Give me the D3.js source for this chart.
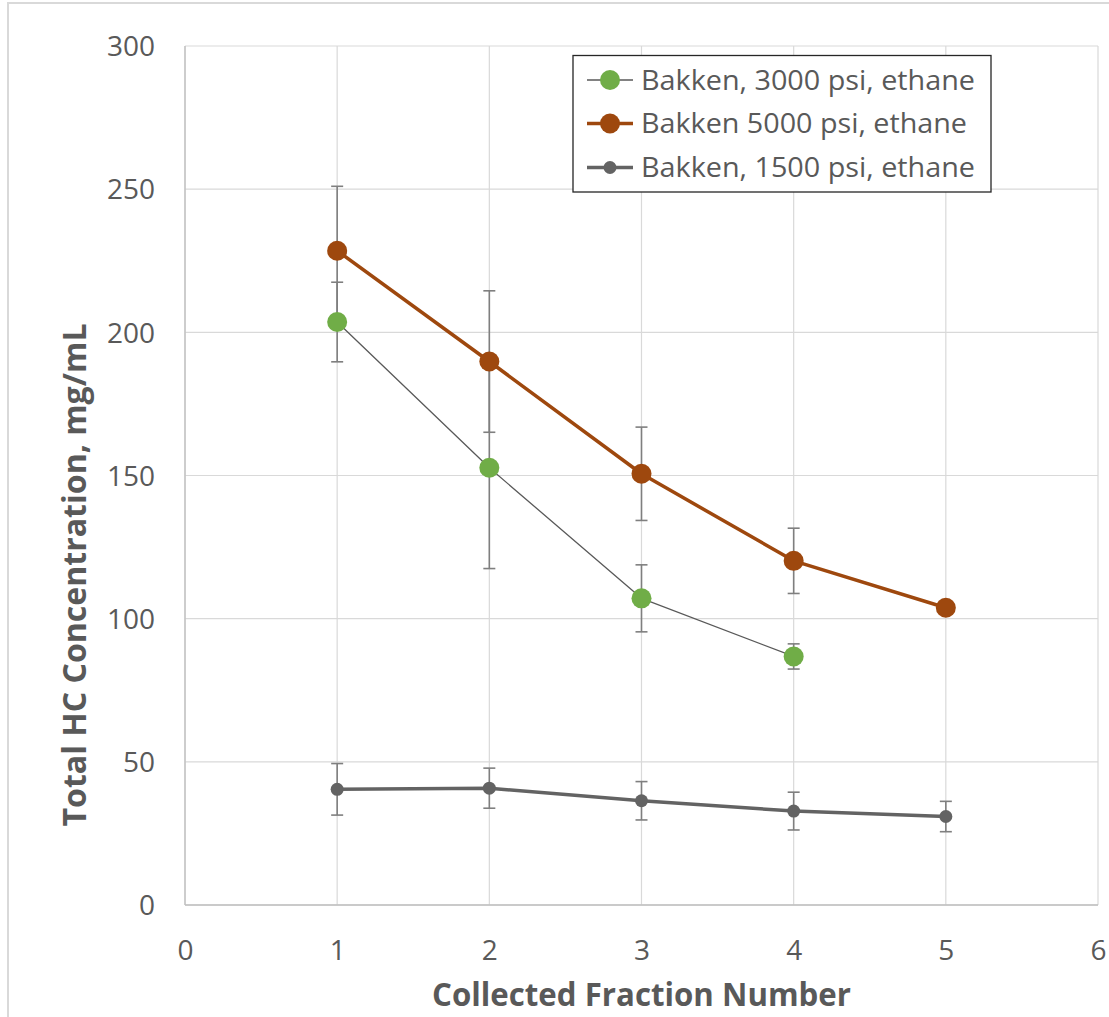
<!DOCTYPE html>
<html><head><meta charset="utf-8">
<script src="https://cdn.jsdelivr.net/npm/d3@7"></script>
<style>html,body{margin:0;padding:0;background:#fff;} svg{display:block;}</style>
</head><body>
<svg id="chart" width="1109" height="1017"></svg>
<script>
// ---- data ----
const fractions = [1, 2, 3, 4, 5];
const seriesNames = ["Bakken, 3000 psi, ethane", "Bakken 5000 psi, ethane", "Bakken, 1500 psi, ethane"];
const values3000 = [203.6, 152.7, 107.1, 86.8];
const errors3000 = [13.9, 35.2, 11.7, 4.4];
const values5000 = [228.5, 189.8, 150.6, 120.2, 103.8];
const errors5000 = [22.5, 24.7, 16.3, 11.4, 0];
const values1500 = [40.4, 40.8, 36.4, 32.8, 30.9];
const errors1500 = [9.0, 7.0, 6.7, 6.6, 5.3];
const xTicks = [0, 1, 2, 3, 4, 5, 6];
const yTicks = [0, 50, 100, 150, 200, 250, 300];
const xTitle = "Collected Fraction Number";
const yTitle = "Total HC Concentration, mg/mL";

const series = [
  {name: seriesNames[0], vals: values3000, errs: errors3000, color: "#70AD47", line: "#595959", lw: 1.3, r: 10},
  {name: seriesNames[1], vals: values5000, errs: errors5000, color: "#9E480E", line: "#9E480E", lw: 3.5, r: 10},
  {name: seriesNames[2], vals: values1500, errs: errors1500, color: "#636363", line: "#636363", lw: 3.5, r: 6.5}
];

const svg = d3.select("#chart");
const L = 185, R = 1098, T = 46, B = 905;
const x = d3.scaleLinear().domain([0, 6]).range([L, R]);
const y = d3.scaleLinear().domain([0, 300]).range([B, T]);
const font = "'Open Sans', 'DejaVu Sans', sans-serif";

// outer frame (cropped at right/bottom)
svg.append("rect").attr("x", 8).attr("y", 3).attr("width", 1200).attr("height", 1100)
  .attr("fill", "#fff").attr("stroke", "#d9d9d9").attr("stroke-width", 2);

// grid
const grid = svg.append("g");
grid.selectAll("line.h").data(yTicks).join("line")
  .attr("x1", L).attr("x2", R).attr("y1", d => y(d)).attr("y2", d => y(d))
  .attr("stroke", "#d9d9d9").attr("stroke-width", 1.2);
grid.selectAll("line.v").data(xTicks).join("line")
  .attr("y1", T).attr("y2", B).attr("x1", d => x(d)).attr("x2", d => x(d))
  .attr("stroke", "#d9d9d9").attr("stroke-width", 1.2);
// axis lines
svg.append("line").attr("x1", L).attr("x2", L).attr("y1", T).attr("y2", B).attr("stroke", "#bfbfbf").attr("stroke-width", 1.3);
svg.append("line").attr("x1", L).attr("x2", R).attr("y1", B).attr("y2", B).attr("stroke", "#bfbfbf").attr("stroke-width", 1.3);

// axes labels via d3 axes
const yAxis = svg.append("g").attr("transform", `translate(${L},0)`)
  .call(d3.axisLeft(y).tickValues(yTicks).tickFormat(d3.format("d")).tickSize(0).tickPadding(30));
yAxis.select(".domain").remove();
yAxis.selectAll("text").attr("font-family", font).attr("font-size", 28).attr("fill", "#595959").attr("dy", "0.35em");

const xAxis = svg.append("g").attr("transform", `translate(0,${B})`)
  .call(d3.axisBottom(x).tickValues(xTicks).tickFormat(d3.format("d")).tickSize(0).tickPadding(0));
xAxis.select(".domain").remove();
xAxis.selectAll("text").attr("font-family", font).attr("font-size", 28).attr("fill", "#595959").attr("y", 45).attr("dy", "0.35em");

// titles
svg.append("text").attr("x", (L + R) / 2).attr("y", 1006).attr("text-anchor", "middle")
  .attr("font-family", font).attr("font-weight", "bold").attr("font-size", 32).attr("fill", "#595959")
  .attr("textLength", 419).attr("lengthAdjust", "spacingAndGlyphs").text(xTitle);
svg.append("text").attr("transform", "translate(86,575) rotate(-90)").attr("text-anchor", "middle")
  .attr("font-family", font).attr("font-weight", "bold").attr("font-size", 32).attr("fill", "#595959")
  .attr("textLength", 503).attr("lengthAdjust", "spacingAndGlyphs").text(yTitle);

// error bars
const eb = svg.append("g");
series.forEach(s => {
  s.vals.forEach((v, i) => {
    const e = s.errs[i];
    if (!e) return;
    const cx = x(fractions[i]);
    eb.append("line").attr("x1", cx).attr("x2", cx).attr("y1", y(v + e)).attr("y2", y(v - e))
      .attr("stroke", "#7f7f7f").attr("stroke-width", 1.6);
    [v + e, v - e].forEach(t => {
      eb.append("line").attr("x1", cx - 6).attr("x2", cx + 6).attr("y1", y(t)).attr("y2", y(t))
        .attr("stroke", "#7f7f7f").attr("stroke-width", 1.6);
    });
  });
});

// lines
const lineGen = d3.line().x((d, i) => x(fractions[i])).y(d => y(d));
series.forEach(s => {
  svg.append("path").attr("d", lineGen(s.vals)).attr("fill", "none")
    .attr("stroke", s.line).attr("stroke-width", s.lw).attr("stroke-linejoin", "round");
});
// markers
series.forEach(s => {
  svg.append("g").selectAll("circle").data(s.vals).join("circle")
    .attr("cx", (d, i) => x(fractions[i])).attr("cy", d => y(d)).attr("r", s.r).attr("fill", s.color);
});

// legend
const lg = svg.append("g");
lg.append("rect").attr("x", 573).attr("y", 55.5).attr("width", 418).attr("height", 136.5)
  .attr("fill", "#fff").attr("stroke", "#262626").attr("stroke-width", 1.3);
const rowsY = [80, 123.5, 167.5];
series.forEach((s, i) => {
  const cy = rowsY[i];
  lg.append("line").attr("x1", 587).attr("x2", 633).attr("y1", cy).attr("y2", cy)
    .attr("stroke", s.line).attr("stroke-width", s.lw);
  lg.append("circle").attr("cx", 610).attr("cy", cy).attr("r", s.r).attr("fill", s.color);
  lg.append("text").attr("x", 641).attr("y", cy).attr("dy", "0.36em")
    .attr("font-family", font).attr("font-size", 27).attr("fill", "#595959")
    .attr("textLength", i === 1 ? 326 : 334).attr("lengthAdjust", "spacingAndGlyphs").text(s.name);
});
</script>
</body></html>
